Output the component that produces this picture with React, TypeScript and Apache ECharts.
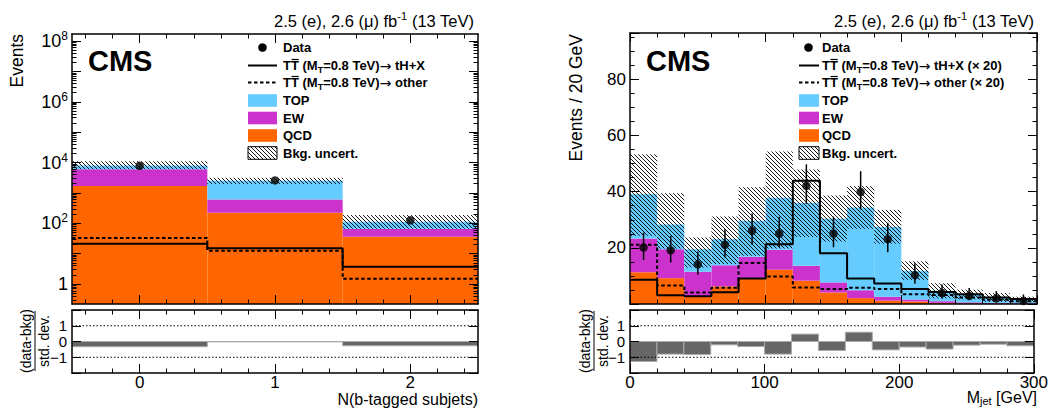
import React, { useEffect, useRef } from "react";
import * as echarts from "echarts";

const FONT = "'Liberation Sans', Arial, Helvetica, sans-serif";

// ---------------- Left panel: N(b-tagged subjets) ----------------
const nbEdges = [-0.5, 0.5, 1.5, 2.5];
const nbCenters = [0, 1, 2];
const nbTickLabels = ["0", "1", "2"];
const nbMinorTicks = [-0.4, -0.2, 0.2, 0.4, 0.6, 0.8, 1.2, 1.4, 1.6, 1.8, 2.2, 2.4];
const nbQCD = [1700, 220, 36];
const nbEW = [4300, 390, 30];
const nbTOP = [2000, 1890, 46];
const nbUncLow = [6000, 1950, 66];
const nbUncHigh = [11000, 3150, 186];
const nbData = [7800, 2570, 125];
const nbSigTH = [21, 15, 3.7];
const nbSigOther = [33, 12.5, 1.5];
const nbPull = [-0.33, -0.02, -0.27];
const logLabelValues = [1, 1e2, 1e4, 1e6, 1e8];
const LOG_MIN = 0.22;
const LOG_MAX = 1.7e8;

// ---------------- Right panel: M_jet ----------------
const mjEdges = [0, 20, 40, 60, 80, 100, 120, 140, 160, 180, 200, 220, 240, 260, 280, 300];
const mjCenters = [10, 30, 50, 70, 90, 110, 130, 150, 170, 190, 210, 230, 250, 270, 290];
const mjXTicks = [0, 100, 200, 300];
const mjYTicks = [20, 40, 60, 80];
const mjQCD = [11.3, 9.2, 2.6, 6.3, 9.3, 12.2, 8.3, 4.1, 2.1, 1.2, 0.9, 0.4, 0.2, 0.1, 0.1];
const mjEW = [12.0, 10.3, 8.9, 7.5, 7.5, 7.1, 5.3, 3.6, 2.8, 1.4, 0.7, 0.6, 0.4, 0.3, 0.2];
const mjTOP = [15.8, 8.8, 8.0, 9.3, 12.8, 18.5, 22.4, 22.7, 29.5, 24.8, 10.2, 3.7, 2.8, 1.9, 1.4];
const mjUncLow = [24.3, 19.8, 13.0, 14.2, 17.2, 19.8, 23.9, 22.3, 26.8, 21.5, 8.6, 2.0, 1.7, 0.7, 0.8];
const mjUncHigh = [53.3, 39.4, 23.7, 31.2, 41.6, 54.3, 47.9, 38.6, 42.0, 33.5, 15.2, 7.4, 5.1, 3.9, 2.6];
const mjData = [20.1, 19.1, 14.1, 21.1, 26.1, 25.1, 42.1, 25.1, 39.9, 23.1, 10.3, 3.9, 2.9, 2.0, 1.1];
const mjErrUp = [5.3, 5.2, 4.6, 5.6, 6.1, 6.0, 7.6, 6.0, 7.4, 5.8, 4.2, 3.0, 2.8, 2.6, 2.3];
const mjErrDown = [4.4, 4.3, 3.7, 4.5, 5.0, 4.9, 6.4, 4.9, 6.3, 4.7, 3.1, 1.9, 1.6, 1.3, 0.9];
const mjSigTH = [8.6, 3.1, 2.8, 4.2, 9.1, 21.3, 43.9, 18.1, 9.1, 7.3, 5.3, 4.3, 3.5, 2.3, 1.8];
const mjSigOther = [21.1, 6.6, 4.1, 5.8, 14.6, 9.8, 5.9, 5.3, 5.8, 5.3, 3.5, 3.2, 2.3, 1.5, 1.0];
const mjPull = [-1.27, -0.8, -0.83, -0.21, -0.32, -0.8, 0.47, -0.57, 0.59, -0.53, -0.35, -0.48, -0.23, -0.17, -0.27];
const pullTicks = [-1, 0, 1];
const pullTickLabels = ["−1", "0", "1"];
const pullRefLines = [1, -1];

// ---------------- Legend ----------------
const legendLeft = [
  "Data",
  "TT (M{sub|T}=0.8 TeV){arr|→} tH+X",
  "TT (M{sub|T}=0.8 TeV){arr|→} other",
  "TOP",
  "EW",
  "QCD",
  "Bkg. uncert.",
];
const legendRight = [
  "Data",
  "TT (M{sub|T}=0.8 TeV){arr|→} tH+X (× 20)",
  "TT (M{sub|T}=0.8 TeV){arr|→} other (× 20)",
  "TOP",
  "EW",
  "QCD",
  "Bkg. uncert.",
];
const headerText = "2.5 (e), 2.6 (μ) fb{sup|-1} (13 TeV)";

const C_TOP = "#66ccff";
const C_EW = "#cc33cc";
const C_QCD = "#ff6600";

function makeHatch(): HTMLCanvasElement {
  const s = 4;
  const c = document.createElement("canvas");
  c.width = s;
  c.height = s;
  const ctx = c.getContext("2d")!;
  ctx.strokeStyle = "#000";
  ctx.lineWidth = 0.9;
  ctx.beginPath();
  ctx.moveTo(-1, -1);
  ctx.lineTo(s + 1, s + 1);
  ctx.moveTo(-1, s - 1);
  ctx.lineTo(1, s + 1);
  ctx.moveTo(s - 1, -1);
  ctx.lineTo(s + 1, 1);
  ctx.stroke();
  return c;
}

function rectSeries(xi: number, yi: number, data: number[][], style: any, fromBottom = false, z = 2) {
  return {
    type: "custom",
    xAxisIndex: xi,
    yAxisIndex: yi,
    data,
    clip: true,
    silent: true,
    z,
    encode: { x: [0, 1], y: [3] },
    renderItem: (params: any, api: any) => {
      const cs = params.coordSys;
      const x0 = api.value(0);
      const x1 = api.value(1);
      const ya = api.value(2);
      const yb = api.value(3);
      const hi = Math.max(ya, yb);
      const lo = Math.min(ya, yb);
      const left = api.coord([x0, hi])[0];
      const right = api.coord([x1, hi])[0];
      const top = api.coord([x0, hi])[1];
      const bot = fromBottom ? cs.y + cs.height : api.coord([x0, lo])[1];
      return {
        type: "rect",
        shape: { x: left, y: top, width: right - left, height: bot - top },
        style,
      };
    },
  };
}

function stepLine(xi: number, yi: number, edges: number[], vals: number[], dashed: boolean) {
  const data = vals.map((v, i) => [edges[i], v]);
  data.push([edges[edges.length - 1], vals[vals.length - 1]]);
  return {
    type: "line",
    xAxisIndex: xi,
    yAxisIndex: yi,
    step: "end",
    data,
    symbol: "none",
    showSymbol: false,
    silent: true,
    z: 4,
    lineStyle: { color: "#000", width: 2, type: dashed ? [3.5, 2.5] : "solid" },
  };
}

function refLines(xi: number, yi: number, xmin: number, xmax: number) {
  return pullRefLines.map((v) => ({
    type: "line",
    xAxisIndex: xi,
    yAxisIndex: yi,
    data: [
      [xmin, v],
      [xmax, v],
    ],
    symbol: "none",
    silent: true,
    z: 5,
    lineStyle: { color: "#000", width: 1, type: [1.5, 2] },
  }));
}

function errorSeries(xi: number, yi: number, data: number[][]) {
  return {
    type: "custom",
    xAxisIndex: xi,
    yAxisIndex: yi,
    data,
    clip: true,
    silent: true,
    z: 5,
    encode: { x: [0], y: [1] },
    renderItem: (params: any, api: any) => {
      const x = api.value(0);
      const y = api.value(1);
      const up = api.value(2);
      const dn = api.value(3);
      const p0 = api.coord([x, y - dn]);
      const p1 = api.coord([x, y + up]);
      return {
        type: "line",
        shape: { x1: p0[0], y1: p0[1], x2: p1[0], y2: p1[1] },
        style: { stroke: "#000", lineWidth: 1.5 },
      };
    },
  };
}

const tickStyle = { color: "#000", width: 1 };
const lineStyle = { color: "#000", width: 1.5 };
const labelBase = { color: "#000", fontFamily: FONT, fontSize: 17, hideOverlap: false, lineHeight: 13 };

function ax(gridIndex: number, position: string, scale: any, opts: any = {}) {
  return {
    gridIndex,
    position,
    z: 10,
    ...scale,
    axisLine: { show: opts.line !== false, onZero: false, lineStyle },
    splitLine: { show: false },
    axisTick: {
      show: opts.noTick ? false : true,
      inside: true,
      length: opts.tickLen ?? 9,
      lineStyle: tickStyle,
      ...(opts.tickValues ? { customValues: opts.tickValues } : {}),
    },
    minorTick: opts.minor
      ? { show: true, splitNumber: opts.minor, length: 4.5, lineStyle: tickStyle }
      : { show: false },
    axisLabel: opts.label ? { show: true, ...labelBase, ...opts.label } : { show: false },
  };
}

function legendGraphics(labels: string[], symX: number, sw0: number, sw1: number, textX: number, hatch: any) {
  const rows = [47.5, 65.5, 82.5, 100.5, 118, 135.5, 153];
  const els: any[] = [];
  const fs = 13;
  const textStyle = (text: string, y: number) => ({
    type: "text",
    x: textX,
    y,
    style: {
      text,
      fill: "#000",
      fontFamily: FONT,
      fontSize: fs,
      fontWeight: "bold",
      align: "left",
      verticalAlign: "middle",
      lineHeight: 17,
      rich: {
        sub: { fontFamily: FONT, fontSize: 9, fontWeight: "bold", fill: "#000", verticalAlign: "bottom", lineHeight: 9 },
        arr: { fontFamily: "'DejaVu Sans'", fontSize: 14, fontWeight: "normal", fill: "#000", lineHeight: 17 },
      },
    },
  });
  labels.forEach((t, i) => els.push(textStyle(t, rows[i])));
  // overline on the anti-T
  const tw = fs * 0.611;
  [1, 2].forEach((i) =>
    els.push({
      type: "line",
      shape: { x1: textX + tw + 0.6, y1: rows[i] - 6, x2: textX + 2 * tw - 0.2, y2: rows[i] - 6 },
      style: { stroke: "#000", lineWidth: 1.2 },
    })
  );
  els.push({ type: "circle", shape: { cx: symX, cy: rows[0], r: 4.3 }, style: { fill: "#000" } });
  els.push({ type: "line", shape: { x1: sw0, y1: rows[1], x2: sw1, y2: rows[1] }, style: { stroke: "#000", lineWidth: 2 } });
  els.push({
    type: "line",
    shape: { x1: sw0, y1: rows[2], x2: sw1, y2: rows[2] },
    style: { stroke: "#000", lineWidth: 2, lineDash: [3.5, 2.5] },
  });
  const fills = [C_TOP, C_EW, C_QCD];
  fills.forEach((f, k) =>
    els.push({ type: "rect", shape: { x: sw0, y: rows[3 + k] - 6.3, width: sw1 - sw0, height: 12.6 }, style: { fill: f } })
  );
  els.push({
    type: "rect",
    shape: { x: sw0, y: rows[6] - 6.3, width: sw1 - sw0, height: 12.6 },
    style: { fill: hatch, stroke: "#000", lineWidth: 1 },
  });
  return els;
}

function plainText(text: string, x: number, y: number, extra: any = {}) {
  return {
    type: "text",
    x,
    y,
    rotation: extra.rotation ?? 0,
    style: {
      text,
      fill: "#000",
      fontFamily: FONT,
      fontSize: extra.fontSize ?? 17,
      fontWeight: extra.fontWeight ?? "normal",
      align: extra.align ?? "left",
      verticalAlign: "middle",
      lineHeight: extra.lineHeight,
      rich: extra.rich,
    },
  };
}

function buildOption() {
  const hatchCanvas = makeHatch();
  const hatch = { image: hatchCanvas, repeat: "repeat", imageWidth: 4, imageHeight: 4 };

  const logMinor: number[] = [];
  for (let d = -1; d <= 8; d++)
    for (let k = 2; k <= 9; k++) {
      const v = k * Math.pow(10, d);
      if (v > LOG_MIN && v < LOG_MAX) logMinor.push(v);
    }

  const nbX = { type: "value", min: -0.5, max: 2.5 };
  const mjX = { type: "value", min: 0, max: 300, interval: 100 };
  const logY = { type: "log", logBase: 10, min: LOG_MIN, max: LOG_MAX };
  const pullY = { type: "value", min: -2, max: 2, interval: 1 };
  const mjY = { type: "value", min: 0, max: 96.5, interval: 20 };

  const xAxis = [
    ax(0, "bottom", nbX, { tickValues: nbMinorTicks, tickLen: 4.5 }), // 0
    ax(0, "top", nbX, { tickValues: nbMinorTicks, tickLen: 4.5 }), // 1
    ax(0, "bottom", nbX, { tickValues: nbCenters, line: false }), // 2
    ax(0, "top", nbX, { tickValues: nbCenters, line: false }), // 3
    ax(1, "bottom", nbX, {
      tickValues: nbMinorTicks,
      tickLen: 4.5,
      label: {
        customValues: nbCenters,
        margin: 3,
        formatter: (v: number) => nbTickLabels[nbCenters.indexOf(Math.round(v))] ?? "",
      },
    }), // 4
    ax(1, "top", nbX, { tickValues: nbMinorTicks, tickLen: 4.5 }), // 5
    ax(1, "bottom", nbX, { tickValues: nbCenters, line: false }), // 6
    ax(1, "top", nbX, { tickValues: nbCenters, line: false }), // 7
    ax(2, "bottom", mjX, { minor: 5 }), // 8
    ax(2, "top", mjX, { minor: 5 }), // 9
    ax(3, "bottom", mjX, {
      minor: 5,
      label: { customValues: mjXTicks, margin: 3, formatter: (v: number) => String(v) },
    }), // 10
    ax(3, "top", mjX, { minor: 5 }), // 11
  ];

  const logLabel = {
    customValues: logLabelValues,
    margin: 4,
    fontSize: 18,
    lineHeight: 22,
    formatter: (v: number) => {
      const e = Math.round(Math.log10(v));
      return e === 0 ? "1" : `10{sup|${e}}`;
    },
    rich: {
      sup: { fontFamily: FONT, fontSize: 12, color: "#000", verticalAlign: "top", lineHeight: 10 },
    },
  };
  // one axis per pull label so that no label-overlap logic can drop any of them
  const pullLabelAxes = (grid: number) =>
    pullTicks.map((v, i) =>
      ax(grid, "left", { type: "value", min: -2, max: 2 }, {
        line: false,
        noTick: true,
        label: { customValues: [v], margin: 5, fontSize: 15, lineHeight: 11, formatter: () => pullTickLabels[i] },
      })
    );

  const yAxis = [
    ax(0, "left", logY, { tickValues: [1, 1e1, 1e2, 1e3, 1e4, 1e5, 1e6, 1e7, 1e8], label: logLabel }), // 0
    ax(0, "right", logY, { tickValues: [1, 1e1, 1e2, 1e3, 1e4, 1e5, 1e6, 1e7, 1e8] }), // 1
    ax(0, "left", logY, { tickValues: logMinor, tickLen: 4.5, line: false }), // 2
    ax(0, "right", logY, { tickValues: logMinor, tickLen: 4.5, line: false }), // 3
    ax(1, "left", pullY, {}), // 4
    ax(1, "right", pullY), // 5
    ax(2, "left", mjY, { minor: 4, label: { customValues: mjYTicks, margin: 4, formatter: (v: number) => String(v) } }), // 6
    ax(2, "right", mjY, { minor: 4 }), // 7
    ax(3, "left", pullY, {}), // 8
    ax(3, "right", pullY), // 9
    ...pullLabelAxes(1), // 10-12
    ...pullLabelAxes(3), // 13-15
  ];

  const stack = (edges: number[], qcd: number[], ew: number[], top: number[]) => {
    const q: number[][] = [];
    const e: number[][] = [];
    const t: number[][] = [];
    qcd.forEach((v, i) => {
      const a = v;
      const b = v + ew[i];
      const c = b + top[i];
      q.push([edges[i], edges[i + 1], 0, a]);
      e.push([edges[i], edges[i + 1], a, b]);
      t.push([edges[i], edges[i + 1], b, c]);
    });
    return { q, e, t };
  };
  const nbStack = stack(nbEdges, nbQCD, nbEW, nbTOP);
  const mjStack = stack(mjEdges, mjQCD, mjEW, mjTOP);
  const band = (edges: number[], lo: number[], hi: number[]) => lo.map((l, i) => [edges[i], edges[i + 1], l, hi[i]]);
  const pulls = (edges: number[], p: number[]) => p.map((v, i) => [edges[i], edges[i + 1], 0, v]);

  const pullStyle = { fill: "#666666", stroke: "#aaaaaa", lineWidth: 1 };

  const series: any[] = [
    // left main
    rectSeries(0, 0, nbStack.q, { fill: C_QCD }, true),
    rectSeries(0, 0, nbStack.e, { fill: C_EW }),
    rectSeries(0, 0, nbStack.t, { fill: C_TOP }),
    rectSeries(0, 0, band(nbEdges, nbUncLow, nbUncHigh), { fill: hatch }, false, 3),
    stepLine(0, 0, nbEdges, nbSigTH, false),
    stepLine(0, 0, nbEdges, nbSigOther, true),
    {
      type: "scatter",
      xAxisIndex: 0,
      yAxisIndex: 0,
      data: nbCenters.map((c, i) => [c, nbData[i]]),
      symbol: "circle",
      symbolSize: 8.5,
      itemStyle: { color: "#000" },
      silent: true,
      z: 6,
    },
    // left ratio
    rectSeries(4, 4, pulls(nbEdges, nbPull), pullStyle),
    ...refLines(4, 4, nbEdges[0], nbEdges[nbEdges.length - 1]),
    // right main
    rectSeries(8, 6, mjStack.q, { fill: C_QCD }, true),
    rectSeries(8, 6, mjStack.e, { fill: C_EW }),
    rectSeries(8, 6, mjStack.t, { fill: C_TOP }),
    rectSeries(8, 6, band(mjEdges, mjUncLow, mjUncHigh), { fill: hatch }, false, 3),
    stepLine(8, 6, mjEdges, mjSigTH, false),
    stepLine(8, 6, mjEdges, mjSigOther, true),
    errorSeries(8, 6, mjCenters.map((c, i) => [c, mjData[i], mjErrUp[i], mjErrDown[i]])),
    {
      type: "scatter",
      xAxisIndex: 8,
      yAxisIndex: 6,
      data: mjCenters.map((c, i) => [c, mjData[i]]),
      symbol: "circle",
      symbolSize: 8.5,
      itemStyle: { color: "#000" },
      silent: true,
      z: 6,
    },
    // right ratio
    rectSeries(10, 8, pulls(mjEdges, mjPull), pullStyle),
    ...refLines(10, 8, mjEdges[0], mjEdges[mjEdges.length - 1]),
  ];

  const supRich = { sup: { fontFamily: FONT, fontSize: 11, fill: "#000", verticalAlign: "top", lineHeight: 10 } };
  const subRich = { sub: { fontFamily: FONT, fontSize: 11, fill: "#000", verticalAlign: "bottom", lineHeight: 11 } };

  const graphics: any[] = [
    // headers
    plainText(headerText, 474, 21, { align: "right", fontSize: 16.5, lineHeight: 21, rich: supRich }),
    plainText(headerText, 1034, 21, { align: "right", fontSize: 16.5, lineHeight: 21, rich: supRich }),
    // CMS
    plainText("CMS", 88, 61, { fontSize: 29, fontWeight: "bold" }),
    plainText("CMS", 646, 61, { fontSize: 29, fontWeight: "bold" }),
    // y titles
    plainText("Events", 16.5, 34, { align: "right", rotation: Math.PI / 2, fontSize: 17.5 }),
    plainText("Events / 20 GeV", 575.5, 34, { align: "right", rotation: Math.PI / 2, fontSize: 17.5 }),
    // x titles
    plainText("N(b-tagged subjets)", 478, 399, { align: "right", fontSize: 16, lineHeight: 14 }),
    plainText("M{sub|jet} [GeV]", 1037, 397.5, { align: "right", fontSize: 16, lineHeight: 17, rich: subRich }),
    // ratio titles
    plainText("(data-bkg)", 25.5, 341, { align: "center", rotation: Math.PI / 2, fontSize: 14, lineHeight: 14 }),
    plainText("std. dev.", 43.5, 341, { align: "center", rotation: Math.PI / 2, fontSize: 14, lineHeight: 13 }),
    { type: "line", shape: { x1: 35, y1: 311, x2: 35, y2: 371 }, style: { stroke: "#000", lineWidth: 1 } },
    plainText("(data-bkg)", 584.5, 341, { align: "center", rotation: Math.PI / 2, fontSize: 14, lineHeight: 14 }),
    plainText("std. dev.", 602.5, 341, { align: "center", rotation: Math.PI / 2, fontSize: 14, lineHeight: 13 }),
    { type: "line", shape: { x1: 594, y1: 311, x2: 594, y2: 371 }, style: { stroke: "#000", lineWidth: 1 } },
    ...legendGraphics(legendLeft, 262.5, 248, 277, 283, hatch),
    ...legendGraphics(legendRight, 808.5, 799, 819, 822, hatch),
  ];

  return {
    animation: false,
    backgroundColor: "#ffffff",
    grid: [
      { left: 72, top: 34, width: 406, height: 270 },
      { left: 72, top: 310, width: 406, height: 63 },
      { left: 630, top: 33, width: 407, height: 271 },
      { left: 630, top: 310, width: 407, height: 63 },
    ],
    xAxis,
    yAxis,
    series,
    graphic: { elements: graphics },
  };
}

export default function App() {
  const ref = useRef<HTMLDivElement>(null);
  useEffect(() => {
    if (!ref.current) return;
    const chart = echarts.init(ref.current, undefined, { renderer: "svg", width: 1051, height: 408 });
    chart.setOption(buildOption() as any);
    return () => chart.dispose();
  }, []);
  return (
    <div
      ref={ref}
      style={{ position: "fixed", left: 0, top: 0, width: 1051, height: 408, background: "#fff" }}
    />
  );
}
